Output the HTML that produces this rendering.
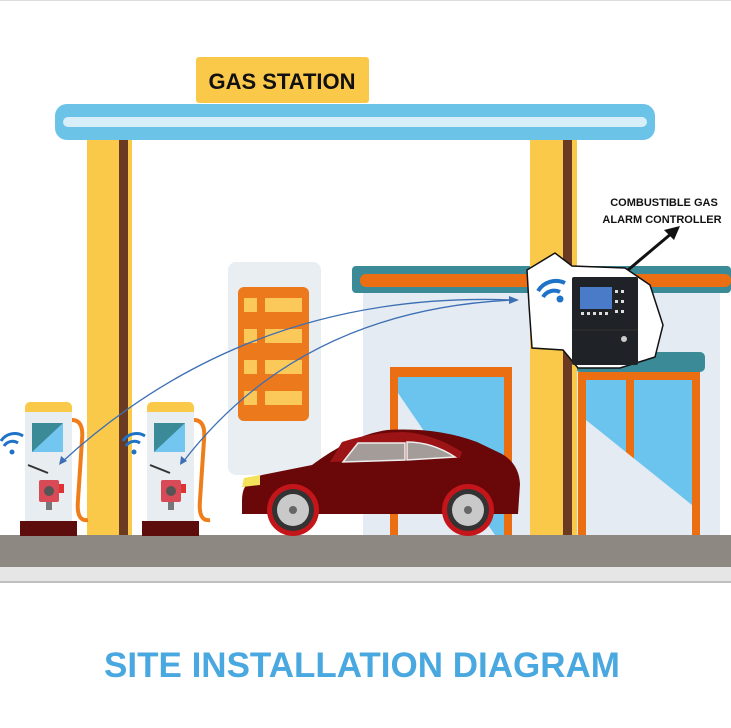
<!DOCTYPE html>
<html><head><meta charset="utf-8"><style>
html,body{margin:0;padding:0;background:#fff;width:731px;height:728px;overflow:hidden}
svg{display:block}
</style></head><body>
<svg width="731" height="728" viewBox="0 0 731 728" xmlns="http://www.w3.org/2000/svg">
<rect width="731" height="728" fill="#fff"/>
<line x1="0" y1="0.5" x2="731" y2="0.5" stroke="#ddd"/>
<rect x="228" y="262" width="93" height="213" rx="8" fill="#e9eef3"/>
<rect x="238" y="287" width="71" height="134" rx="6" fill="#ec7a1c"/>
<g fill="#fbc85a">
<rect x="244" y="298" width="13" height="14"/><rect x="265" y="298" width="37" height="14"/>
<rect x="244" y="329" width="13" height="14"/><rect x="265" y="329" width="37" height="14"/>
<rect x="244" y="360" width="13" height="14"/><rect x="265" y="360" width="37" height="14"/>
<rect x="244" y="391" width="13" height="14"/><rect x="265" y="391" width="37" height="14"/>
</g>
<rect x="363" y="290" width="357" height="245" fill="#e4ebf2"/>
<rect x="352" y="266" width="379" height="27" rx="4" fill="#3b8a97"/>
<rect x="360" y="274" width="371" height="13" rx="6" fill="#eb6f12"/>
<rect x="390" y="367" width="122" height="168" fill="#eb6f12"/>
<rect x="398" y="377" width="106" height="158" fill="#6ac4ee"/>
<polygon points="398,393 495,535 398,535" fill="#e4ebf2"/>
<rect x="575" y="352" width="130" height="20" rx="5" fill="#3b8a97"/>
<rect x="578" y="372" width="122" height="163" fill="#eb6f12"/>
<rect x="586" y="380" width="40" height="155" fill="#6ac4ee"/>
<rect x="634" y="380" width="58" height="155" fill="#6ac4ee"/>
<polygon points="586,420 692,505 692,535 586,535" fill="#e4ebf2"/>
<rect x="87" y="138" width="45" height="398" fill="#fbc94a"/>
<rect x="119" y="138" width="9" height="398" fill="#6b3a22"/>
<rect x="530" y="138" width="47" height="398" fill="#fbc94a"/>
<rect x="563" y="138" width="9" height="398" fill="#6b3a22"/>
<rect x="55" y="104" width="600" height="36" rx="12" fill="#6cc3e8"/>
<rect x="63" y="117" width="584" height="10" rx="5" fill="#d8eef9"/>
<rect x="196" y="57" width="173" height="46" rx="3" fill="#fbc94a"/>
<text x="282" y="89" text-anchor="middle" font-family="Liberation Sans, sans-serif" font-weight="bold" font-size="22" fill="#111">GAS STATION</text>
<rect x="0" y="535" width="731" height="32" fill="#8e8883"/>
<rect x="0" y="567" width="731" height="14" fill="#e6e6e6"/>
<line x1="0" y1="582" x2="731" y2="582" stroke="#aaa" stroke-width="1.5"/>
<g id="pump">
<path d="M72,420 q12,0 10,20 l-4,60 q-2,22 10,20" fill="none" stroke="#ef7d1a" stroke-width="4"/>
<rect x="25" y="402" width="47" height="14" rx="5" fill="#fbc94a"/>
<rect x="25" y="412" width="47" height="110" fill="#e8edf1"/>
<rect x="32" y="423" width="31" height="29" fill="#3b8a97"/>
<polygon points="32,452 63,423 63,452" fill="#72c6ef"/>
<line x1="28" y1="465" x2="48" y2="473" stroke="#333" stroke-width="2"/>
<rect x="39" y="480" width="20" height="22" rx="2" fill="#d84a55"/>
<circle cx="49" cy="491" r="5" fill="#555"/>
<rect x="59" y="484" width="5" height="9" fill="#d33"/>
<rect x="46" y="502" width="6" height="8" fill="#777"/>
<rect x="20" y="521" width="57" height="15" fill="#5e0d0d"/>
<g fill="none" stroke="#1e72c8" stroke-width="3">
<path d="M4,446 a10,10 0 0 1 14,-3"/><path d="M1,441 a16,16 0 0 1 22,-5"/>
</g>
<circle cx="12" cy="452" r="2.5" fill="#1e72c8"/>
</g>
<use href="#pump" transform="translate(122,0)"/>
<path d="M242,500 q0,-20 20,-25 l50,-10 q40,-30 75,-35 q50,-3 90,12 l25,12 q17,10 18,30 l-2,30 l-276,0 z" fill="#6a0708"/>
<path d="M330,462 l12,-20 q30,-10 62,-10 q30,2 58,20 l-2,6 q-60,2 -130,4z" fill="#9c1416"/>
<path d="M343,462 l15,-19 h47 v17 z" fill="#a39c98" stroke="#eee" stroke-width="1.5"/>
<path d="M407,442 q25,0 48,15 l-48,3 z" fill="#a39c98" stroke="#eee" stroke-width="1.5"/>
<path d="M244,478 l16,-3 l0,10 l-18,2z" fill="#f5e15a"/>
<circle cx="293" cy="510" r="26" fill="#c4151a"/><circle cx="293" cy="510" r="21" fill="#333"/><circle cx="293" cy="510" r="16" fill="#c9c9c9"/><circle cx="293" cy="510" r="4" fill="#666"/>
<circle cx="468" cy="510" r="26" fill="#c4151a"/><circle cx="468" cy="510" r="21" fill="#333"/><circle cx="468" cy="510" r="16" fill="#c9c9c9"/><circle cx="468" cy="510" r="4" fill="#666"/>
<polygon points="527,270 555,253 572,266 625,268 650,285 663,325 655,357 620,368 578,368 563,350 532,348 529,305" fill="#fff" stroke="#111" stroke-width="1.5"/>
<rect x="572" y="277" width="66" height="88" rx="2" fill="#1f2226"/>
<rect x="580" y="287" width="32" height="22" fill="#4a7bc8"/>
<g fill="#ddd"><rect x="581" y="312" width="3" height="3"/><rect x="587" y="312" width="3" height="3"/><rect x="593" y="312" width="3" height="3"/><rect x="599" y="312" width="3" height="3"/><rect x="605" y="312" width="3" height="3"/><rect x="615" y="290" width="3" height="3"/><rect x="621" y="290" width="3" height="3"/><rect x="615" y="300" width="3" height="3"/><rect x="621" y="300" width="3" height="3"/><rect x="615" y="310" width="3" height="3"/><rect x="621" y="310" width="3" height="3"/></g>
<line x1="572" y1="330" x2="638" y2="330" stroke="#333"/>
<circle cx="624" cy="339" r="3" fill="#ccc"/>
<g fill="none" stroke="#1e72c8" stroke-width="4">
<path d="M543,297 a13,13 0 0 1 17,-5"/><path d="M538,291 a21,21 0 0 1 27,-8"/>
</g>
<circle cx="560" cy="299" r="3.5" fill="#1e72c8"/>
<line x1="628" y1="270" x2="672" y2="233" stroke="#111" stroke-width="3"/>
<polygon points="680,226 664,230 674,240" fill="#111"/>
<text x="664" y="206" text-anchor="middle" font-family="Liberation Sans, sans-serif" font-weight="bold" font-size="11" fill="#111">COMBUSTIBLE GAS</text>
<text x="662" y="223" text-anchor="middle" font-family="Liberation Sans, sans-serif" font-weight="bold" font-size="11" fill="#111">ALARM CONTROLLER</text>
<g fill="none" stroke="#3c6fb4" stroke-width="1.3">
<path d="M513,300 Q250,290 62,462"/>
<path d="M513,300 Q300,310 183,462"/>
</g>
<polygon points="519,300 509,296 509,304" fill="#3c6fb4"/>
<polygon points="59,465 61,456 67,461" fill="#3c6fb4"/>
<polygon points="180,465 181,456 187,461" fill="#3c6fb4"/>
<text x="362" y="677" text-anchor="middle" font-family="Liberation Sans, sans-serif" font-weight="bold" font-size="35" fill="#4aa8e0">SITE INSTALLATION DIAGRAM</text>
</svg>
</body></html>
